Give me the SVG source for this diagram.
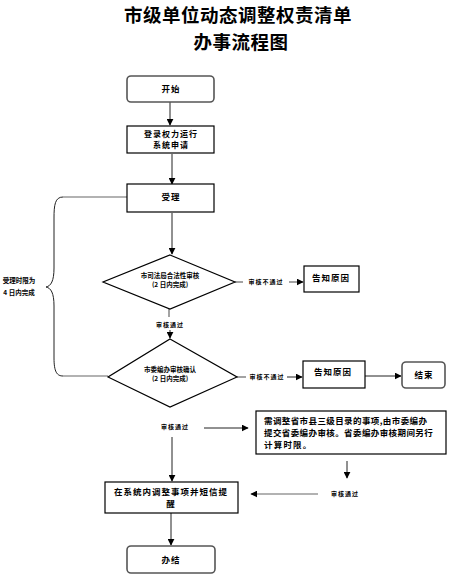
<svg xmlns="http://www.w3.org/2000/svg" width="459" height="585" viewBox="0 0 459 585">
<style>
  text { font-family: "Noto Sans CJK SC", "Noto Sans", sans-serif; font-weight: bold; fill: #000; }
  .title { font-size: 18.5px; text-anchor: middle; letter-spacing: 0.5px; }
  .node { fill: #fff; stroke: #000; stroke-width: 1.2; }
  .rnode { fill: #fff; stroke: #555; stroke-width: 1.6; }
  .t9 { font-size: 8.5px; text-anchor: middle; letter-spacing: 1px; }
  .t8 { font-size: 8px; text-anchor: middle; letter-spacing: 1px; }
  .t7 { font-size: 6.5px; text-anchor: middle; }
  .lbl { font-size: 6px; text-anchor: middle; letter-spacing: 1px; }
  .line { fill: none; stroke: #222; stroke-width: 1; }
  .gline { fill: none; stroke: #666; stroke-width: 1.2; }
</style>
<defs>
  <marker id="arr" viewBox="0 0 10 10" refX="9" refY="5" markerWidth="7" markerHeight="7" orient="auto" markerUnits="userSpaceOnUse">
    <path d="M0,0 L10,5 L0,10 z" fill="#000"/>
  </marker>
</defs>
<rect width="459" height="585" fill="#fff"/>

<g id="title">
  <text class="title" x="238" y="22">市级单位动态调整权责清单</text>
  <text class="title" x="241" y="49">办事流程图</text>
</g>

<g id="connectors">
  <line class="line" x1="170" y1="102" x2="170" y2="125" marker-end="url(#arr)"/>
  <line class="line" x1="172" y1="154" x2="172" y2="184" marker-end="url(#arr)"/>
  <line class="line" x1="172" y1="213" x2="172" y2="254" marker-end="url(#arr)"/>
  <line class="gline" x1="169" y1="308" x2="169" y2="317"/>
  <line class="line" x1="170" y1="330" x2="170" y2="338" marker-end="url(#arr)"/>
  <line class="gline" x1="235" y1="282" x2="243" y2="282"/>
  <line class="gline" x1="289" y1="282" x2="303" y2="282" marker-end="url(#arr)"/>
  <line class="gline" x1="237" y1="377" x2="246" y2="377"/>
  <line class="line" x1="287" y1="377" x2="302" y2="377" marker-end="url(#arr)"/>
  <line class="line" x1="365" y1="376" x2="401" y2="376" marker-end="url(#arr)"/>
  <line class="line" x1="204" y1="428" x2="248" y2="428" marker-end="url(#arr)"/>
  <line class="line" x1="172" y1="437" x2="172" y2="481" marker-end="url(#arr)"/>
  <line class="line" x1="347" y1="461" x2="347" y2="478" marker-end="url(#arr)"/>
  <line class="gline" x1="318" y1="494" x2="251" y2="494" marker-end="url(#arr)"/>
  <line class="line" x1="171" y1="513" x2="171" y2="545" marker-end="url(#arr)"/>
  <line class="gline" x1="63" y1="197" x2="127" y2="197"/>
  <line class="gline" x1="63" y1="376" x2="108" y2="376"/>
  <path class="line" d="M63,197 C55,197 54,205 54,218 L54,268 C54,281 51,286 46,287 C51,288 54,293 54,306 L54,358 C54,372 57,376 63,376"/>
</g>

<g id="start">
  <rect class="rnode" x="127" y="76" width="87" height="26" rx="4"/>
  <text class="t9" x="171" y="92">开始</text>
</g>
<g id="apply">
  <rect class="node" x="127" y="126" width="87" height="27"/>
  <text class="t8" x="171" y="137">登录权力运行</text>
  <text class="t8" x="171" y="148">系统申请</text>
</g>
<g id="accept">
  <rect class="node" x="127" y="184" width="87" height="28"/>
  <text class="t9" x="171" y="200">受理</text>
</g>
<g id="limit">
  <text class="t7" x="19" y="283">受理时限为</text>
  <text class="t7" x="19" y="295">4 日内完成</text>
</g>
<g id="d1">
  <polygon class="node" points="170,255 235,282 170,309 103,282"/>
  <text class="t7" x="170" y="278">市司法局合法性审核</text>
  <text class="t7" x="170" y="287">(2 日内完成)</text>
</g>
<g id="pass1"><text class="lbl" x="170" y="327">审核通过</text></g>
<g id="fail1"><text class="lbl" x="266" y="284">审核不通过</text></g>
<g id="reason1">
  <rect class="node" x="304" y="266" width="55" height="26"/>
  <text class="t9" x="331" y="281">告知原因</text>
</g>
<g id="d2">
  <polygon class="node" points="170,339 237,377 170,407 108,377"/>
  <text class="t7" x="170" y="372">市委编办审核确认</text>
  <text class="t7" x="170" y="381">(2 日内完成)</text>
</g>
<g id="fail2"><text class="lbl" x="267" y="379">审核不通过</text></g>
<g id="reason2">
  <rect class="node" x="303" y="361" width="62" height="27"/>
  <text class="t9" x="333" y="375">告知原因</text>
</g>
<g id="end">
  <rect class="rnode" x="402" y="362" width="43" height="26" rx="4"/>
  <text class="t9" x="424" y="378">结束</text>
</g>
<g id="pass2"><text class="lbl" x="175" y="429">审核通过</text></g>
<g id="province">
  <rect class="node" x="256" y="411" width="190" height="43"/>
  <text style="font-size:8.5px;letter-spacing:0.4px" x="264" y="424">需调整省市县三级目录的事项,由市委编办</text>
  <text style="font-size:8.5px;letter-spacing:0.4px" x="264" y="436">提交省委编办审核。省委编办审核期间另行</text>
  <text style="font-size:8.5px;letter-spacing:1.2px" x="264" y="448">计算时限。</text>
</g>
<g id="pass3"><text class="lbl" x="345" y="496">审核通过</text></g>
<g id="adjust">
  <rect class="node" x="105" y="482" width="133" height="31"/>
  <text class="t9" x="171" y="495">在系统内调整事项并短信提</text>
  <text class="t9" x="171" y="507">醒</text>
</g>
<g id="done">
  <rect class="rnode" x="127" y="546" width="88" height="27" rx="4"/>
  <text class="t9" x="171" y="563">办结</text>
</g>
</svg>
